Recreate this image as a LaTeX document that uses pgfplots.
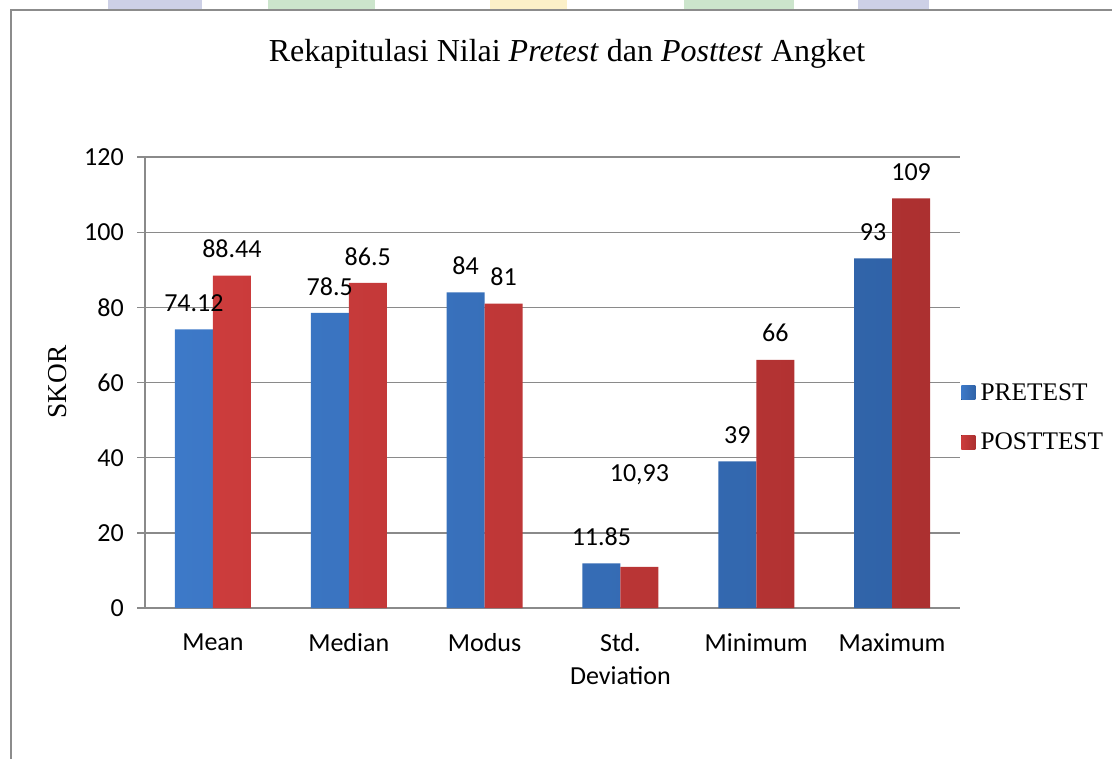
\documentclass[border=0pt]{standalone}
\usepackage{fontspec}
\setmainfont{Liberation Serif}
\newfontfamily\carlito{Carlito}
\usepackage{pgfplots}
\pgfplotsset{compat=1.18}
\usepackage{pgfplotstable}
\definecolor{gridgray}{HTML}{8A8A8A}
\definecolor{framegray}{HTML}{8C8C8C}
\definecolor{lav}{HTML}{CDD0E6}
\definecolor{grn}{HTML}{CCE5CC}
\definecolor{yel}{HTML}{FBF0C8}
\definecolor{blueL}{HTML}{3D79C8}
\definecolor{blueM}{HTML}{4B8AD8}
\definecolor{blueD}{HTML}{3063A8}
\definecolor{redL}{HTML}{CC3C3C}
\definecolor{redM}{HTML}{DE4747}
\definecolor{redD}{HTML}{AC3030}

\pgfplotstableread{
x y label dy
0 74.12 74.12 20
1 78.5 78.5 20
2 84 84 20
3 11.85 11.85 20
4 39 39 20
5 93 93 20
}\pretest

\pgfplotstableread{
x y label dy
0 88.44 88.44 20
1 86.5 86.5 20
2 81 81 20
3 10.93 10,93 69
4 66 66 20
5 109 109 20
}\posttest

\begin{document}
\begin{tikzpicture}
\useasboundingbox (0,0) rectangle (834pt,-569.25pt);
% background strips at the top
\fill[lav] (81pt,0) rectangle (151.5pt,-6.5pt);
\fill[grn] (201pt,0) rectangle (281.25pt,-6.5pt);
\fill[yel] (367.5pt,0) rectangle (425.25pt,-6.5pt);
\fill[grn] (513pt,0) rectangle (595.5pt,-6.5pt);
\fill[lav] (643.5pt,0) rectangle (696.75pt,-6.5pt);
% frame
\draw[framegray, line width=1.5pt] (8.25pt,-569.25pt) -- (8.25pt,-7.5pt) -- (834pt,-7.5pt);
% title
\node[font=\fontsize{24}{28}\selectfont, anchor=base] at (425.25pt,-46.5pt)
  {Rekapitulasi Nilai \textit{Pretest} dan \textit{Posttest} Angket};
% y label
\node[font=\fontsize{20.5}{24}\selectfont, rotate=90] at (43.5pt,-286.5pt) {SKOR};

\begin{axis}[
  at={(108.75pt,-456pt)}, anchor=south west,
  scale only axis, width=611.25pt, height=338.25pt,
  xmin=-0.5, xmax=5.5, ymin=0, ymax=120,
  ybar=0pt, bar width=28.5pt,
  axis x line*=bottom, axis y line*=left,
  axis line style={gridgray, line width=1pt},
  ymajorgrids, major grid style={gridgray, line width=1pt},
  ytick={0,20,...,120}, ytick pos=left,
  tick align=outside, major tick length=6pt,
  ytick style={gridgray, line width=1pt},
  xtick=data, xtick style={draw=none},
  xticklabels={Mean, Median, Modus, {Std.\\Deviation}, Minimum, Maximum},
  /pgf/number format/assume math mode=true,
  ticklabel style={font=\carlito\fontsize{19.5}{24.75}\selectfont},
  yticklabel style={inner sep=0pt, xshift=-9.75pt},
  xticklabel style={align=center, inner sep=0pt, yshift=-13.25pt},
  clip=false,
  nodes near coords,
  point meta=explicit symbolic,
  visualization depends on={\thisrow{dy} \as \dy},
  nodes near coords style={font=\carlito\fontsize{19.5}{20}\selectfont, anchor=center, inner sep=0pt, yshift={\dy*1pt}, text=black},
  legend style={at={(1.0012,0.4224)}, anchor=west, draw=none, fill=none,
    font=\fontsize{19}{22}\selectfont, row sep=21pt, inner sep=0pt,
    nodes={inner ysep=1pt, inner xsep=4pt}},
  legend cell align=left,
  legend image code/.code={\fill[#1] (0pt,-5.25pt) rectangle (10.5pt,5.25pt);},
]
\addplot[draw=none, left color=blueL, middle color=blueM, right color=blueD]
  table[x=x, y=y, meta=label] {\pretest};
\addlegendentry{PRETEST}
\addplot[draw=none, left color=redL, middle color=redM, right color=redD]
  table[x=x, y=y, meta=label] {\posttest};
\addlegendentry{POSTTEST}
\end{axis}
\end{tikzpicture}
\end{document}
